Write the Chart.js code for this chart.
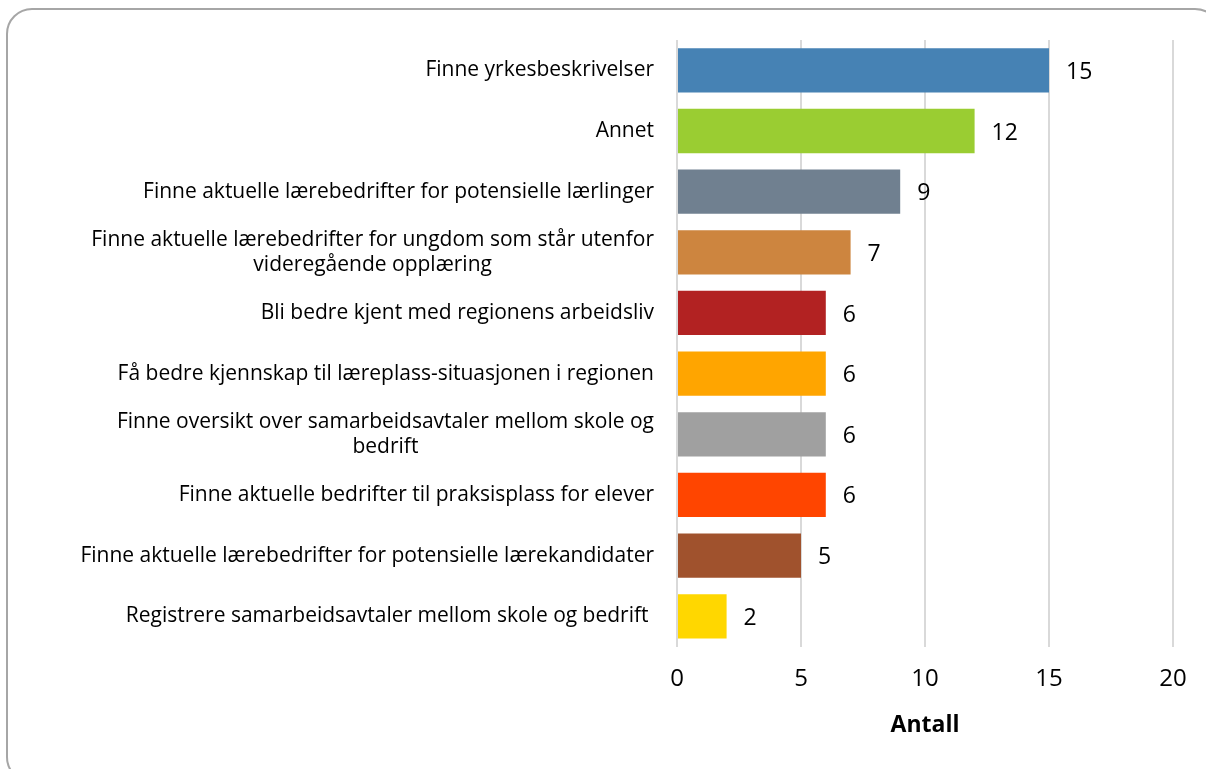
<!DOCTYPE html>
<html>
<head>
<meta charset="utf-8">
<script src="https://cdn.jsdelivr.net/npm/chart.js@4"></script>
<style>
  html, body { margin: 0; padding: 0; background: #fff; }
  #wrap { position: relative; width: 1206px; height: 769px; overflow: hidden; }
  #frame {
    position: absolute; left: 6px; top: 8px; width: 1215px; height: 775px;
    border: 2px solid #A6A6A6; border-radius: 26px; box-sizing: border-box;
  }
  #chart { position: absolute; left: 0; top: 0; }
</style>
</head>
<body>
<div id="wrap">
  <div id="frame"></div>
  <canvas id="chart" width="1206" height="769"></canvas>
</div>
<script>
const FONT = "'Open Sans', sans-serif";

const categories = [
  ["Finne yrkesbeskrivelser"],
  ["Annet"],
  ["Finne aktuelle lærebedrifter for potensielle lærlinger"],
  ["Finne aktuelle lærebedrifter for ungdom som står utenfor", "videregående opplæring"],
  ["Bli bedre kjent med regionens arbeidsliv"],
  ["Få bedre kjennskap til læreplass-situasjonen i regionen"],
  ["Finne oversikt over samarbeidsavtaler mellom skole og", "bedrift"],
  ["Finne aktuelle bedrifter til praksisplass for elever"],
  ["Finne aktuelle lærebedrifter for potensielle lærekandidater"],
  ["Registrere samarbeidsavtaler mellom skole og bedrift "]
];
const values = [15, 12, 9, 7, 6, 6, 6, 6, 5, 2];
const barColors = [
  "#4682B4", "#9ACD32", "#708090", "#CD853F", "#B22222",
  "#FFA500", "#A0A0A0", "#FF4500", "#A0522D", "#FFD700"
];
const xTicks = [0, 5, 10, 15, 20];
const axisTitle = "Antall";

// category labels: text block right-aligned to the axis, lines centred within block
const categoryLabels = {
  id: "categoryLabels",
  afterDraw(chart) {
    const ctx = chart.ctx;
    const y = chart.scales.y;
    const right = chart.chartArea.left - 23;
    const lh = 25;
    ctx.save();
    ctx.font = "21px " + FONT;
    ctx.fillStyle = "#000";
    ctx.textAlign = "center";
    ctx.textBaseline = "middle";
    categories.forEach((lines, i) => {
      const cy = y.getPixelForValue(i);
      const w = Math.max(...lines.map(l => ctx.measureText(l).width));
      const cx = right - w / 2;
      const y0 = cy - (lines.length - 1) * lh / 2;
      lines.forEach((l, k) => ctx.fillText(l, cx, y0 + k * lh));
    });
    ctx.restore();
  }
};

const valueLabels = {
  id: "valueLabels",
  afterDatasetsDraw(chart) {
    const ctx = chart.ctx;
    const meta = chart.getDatasetMeta(0);
    ctx.save();
    ctx.font = "23px " + FONT;
    ctx.fillStyle = "#000";
    ctx.textAlign = "left";
    ctx.textBaseline = "middle";
    meta.data.forEach((bar, i) => {
      ctx.fillText(String(values[i]), bar.x + 17, bar.y + 2);
    });
    ctx.restore();
  }
};

new Chart(document.getElementById("chart"), {
  type: "bar",
  data: {
    labels: categories.map(c => c.join(" ")),
    datasets: [{
      data: values,
      backgroundColor: barColors,
      borderWidth: 0,
      categoryPercentage: 1,
      barPercentage: 0.73
    }]
  },
  options: {
    indexAxis: "y",
    responsive: false,
    animation: false,
    layout: { padding: { left: 677, right: 33, top: 40, bottom: 30 } },
    plugins: { legend: { display: false }, tooltip: { enabled: false } },
    scales: {
      x: {
        min: 0, max: 20,
        afterBuildTicks: s => { s.ticks = xTicks.map(v => ({ value: v })); },
        grid: { color: "#D9D9D9", lineWidth: 2, drawTicks: false },
        border: { display: false },
        ticks: { color: "#000", font: { family: FONT, size: 24 }, padding: 18 },
        title: {
          display: true, text: axisTitle, color: "#000",
          font: { family: FONT, size: 23, weight: "bold" },
          padding: { top: 0, bottom: 0 }
        }
      },
      y: { display: false }
    }
  },
  plugins: [categoryLabels, valueLabels]
});
</script>
</body>
</html>
